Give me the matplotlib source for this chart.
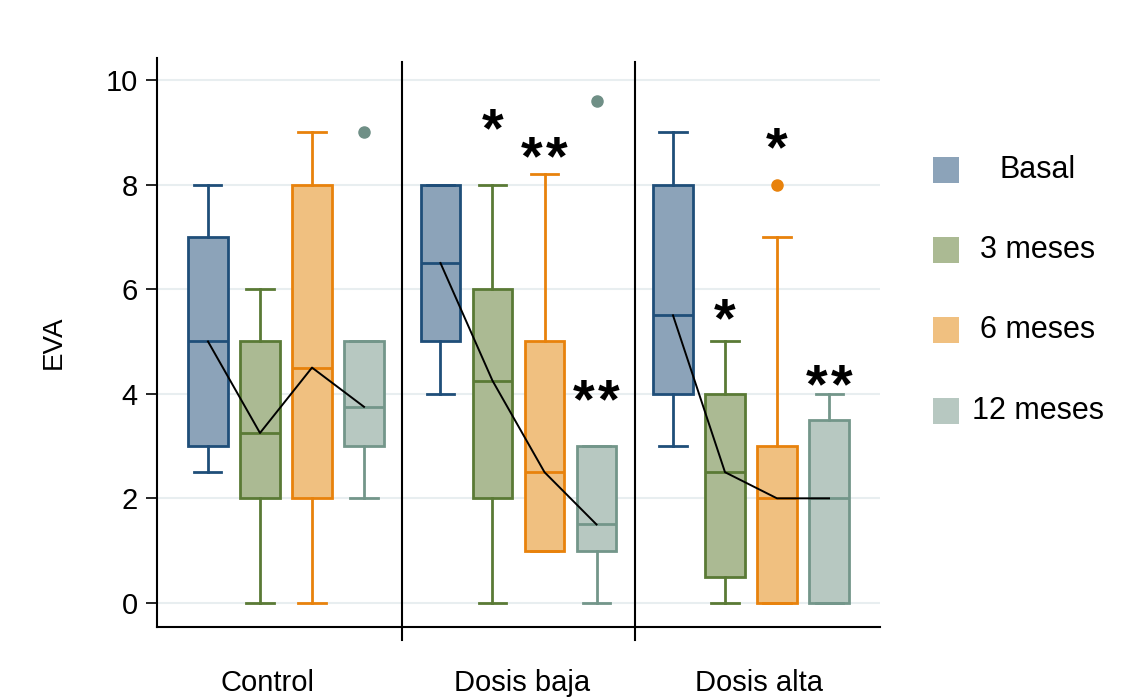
import numpy as np
import matplotlib.pyplot as plt
from matplotlib.patches import Rectangle

plt.rcParams['font.family'] = ['Liberation Sans', 'DejaVu Sans']

groups = ['Control', 'Dosis baja', 'Dosis alta']
series = ['Basal', '3 meses', '6 meses', '12 meses']

# box stats per group, per series: [whislo, q1, med, q3, whishi]
stats = {
    'Control':    [[2.5, 3, 5, 7, 8], [0, 2, 3.25, 5, 6], [0, 2, 4.5, 8, 9], [2, 3, 3.75, 5, 5]],
    'Dosis baja': [[4, 5, 6.5, 8, 8], [0, 2, 4.25, 6, 8], [1, 1, 2.5, 5, 8.2], [0, 1, 1.5, 3, 3]],
    'Dosis alta': [[3, 4, 5.5, 8, 9], [0, 0.5, 2.5, 4, 5], [0, 0, 2, 3, 7], [0, 0, 2, 3.5, 4]],
}
fliers = {
    'Control':    [[], [], [], [9]],
    'Dosis baja': [[], [], [], [9.6]],
    'Dosis alta': [[], [], [8], []],
}
# significance marks: (group, series index, y, text)
sig_group = ['Dosis baja', 'Dosis baja', 'Dosis baja', 'Dosis alta', 'Dosis alta', 'Dosis alta']
sig_series = [1, 2, 3, 1, 2, 3]
sig_y = [9.23, 8.7, 4.06, 5.6, 8.87, 4.35]
sig_text = ['*', '**', '**', '*', '*', '**']

face_colors = ['#8ca3b9', '#abba93', '#f0c080', '#b7c8c1']
edge_colors = ['#1f4e79', '#5a7a35', '#e8820c', '#73968a']
flier_colors = ['#1f4e79', '#5a7a35', '#e8820c', '#6f8f86']

group_step = 4.47
label_x = [1.15, 6.04, 10.6]

fig = plt.figure(figsize=(11.3, 6.98), dpi=100)
ax = fig.add_axes([157 / 1130, 1 - 627 / 698, (880 - 157) / 1130, (627 - 58) / 698])

for y in range(0, 11, 2):
    ax.axhline(y, color='#e8eef0', lw=1.5, zorder=0)

for g, grp in enumerate(groups):
    pos = [g * group_step + i for i in range(4)]
    for i in range(4):
        lo, q1, med, q3, hi = stats[grp][i]
        st = [dict(whislo=lo, q1=q1, med=med, q3=q3, whishi=hi, fliers=fliers[grp][i])]
        ec = edge_colors[i]
        ax.bxp(st, positions=[pos[i]], widths=0.76, capwidths=0.52, patch_artist=True,
               showfliers=True, manage_ticks=False,
               boxprops=dict(facecolor=face_colors[i], edgecolor=ec, lw=2),
               medianprops=dict(color=ec, lw=2),
               whiskerprops=dict(color=ec, lw=2),
               capprops=dict(color=ec, lw=2),
               flierprops=dict(marker='o', markerfacecolor=flier_colors[i],
                               markeredgecolor=flier_colors[i], markersize=8))
    meds = [s[2] for s in stats[grp]]
    ax.plot(pos, meds, color='black', lw=1.4, zorder=5)

# asterisks, one text per star so they sit a little apart
for grp, si, y, t in zip(sig_group, sig_series, sig_y, sig_text):
    x = groups.index(grp) * group_step + si
    n = len(t)
    for k in range(n):
        dx = (k - (n - 1) / 2) * 18
        ax.annotate('*', (x, y), xytext=(dx, -9), textcoords='offset points',
                    ha='center', va='center', fontsize=40, fontweight='bold')

for g in range(2):
    xd = g * group_step + 3 + (group_step - 3) / 2
    ax.plot([xd, xd], [-0.7, 10.35], color='black', lw=1.5, clip_on=False)

ax.set_xlim(-0.98, 12.92)
ax.set_ylim(-0.46, 10.42)
ax.set_yticks(range(0, 11, 2))
ax.set_xticks(label_x)
ax.set_xticklabels(groups)
ax.tick_params(axis='x', length=0, pad=30, labelsize=21)
ax.tick_params(axis='y', length=8, width=1.2, pad=6, labelsize=21)
ax.set_ylabel('EVA', fontsize=20, labelpad=28)
for s in ['top', 'right']:
    ax.spines[s].set_visible(False)
for s in ['left', 'bottom']:
    ax.spines[s].set_linewidth(1.5)

# legend, drawn by hand with centred labels
leg_y = [170, 250, 330, 411]
for i, name in enumerate(series):
    yc = 1 - leg_y[i] / 698
    fig.add_artist(Rectangle((933 / 1130, yc - 13 / 698), 26 / 1130, 26 / 698,
                             transform=fig.transFigure, facecolor=face_colors[i],
                             edgecolor='none'))
    fig.text(1038 / 1130, yc, name, ha='center', va='center', fontsize=22)

fig.savefig('out.png', dpi=100)
